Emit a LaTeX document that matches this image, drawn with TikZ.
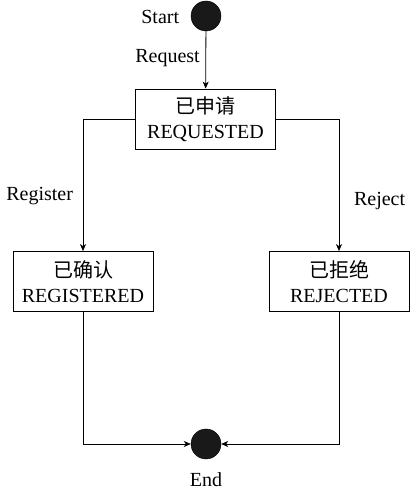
\documentclass[tikz,border=0pt]{standalone}
\usepackage{fontspec}
\setmainfont{Liberation Serif}
\newfontfamily\cjk{Noto Sans CJK SC}
\usetikzlibrary{arrows.meta}

\tikzset{
  state/.style={draw, fill=white, line width=0.8pt, minimum width=140pt,
    minimum height=60pt, align=center, inner sep=0pt},
  dot/.style={circle, draw, fill=black!90, minimum size=30pt, inner sep=0pt},
  flow/.style={-{Stealth[length=7pt, width=6pt, inset=2pt]}, line width=0.8pt}
}

\begin{document}
\begin{tikzpicture}[x=1pt, y=1pt]

  \fontsize{20}{25}\selectfont
  \useasboundingbox (0,0) rectangle (415,495);

  \newcommand\XL{83};
  \newcommand\XM{206};
  \newcommand\XR{339};

  \node[dot] (start) at (\XM, 479) {};
  \node[anchor=east] (startlbl) at (186, 478) {Start};

  \node[state] (req) at (205.5, 376) {{\cjk 已申请}\\REQUESTED};
  \node[state] (reg) at (\XL, 213.5) {{\cjk 已确认}\\REGISTERED};
  \node[state] (rej) at (\XR, 213.5) {{\cjk 已拒绝}\\REJECTED};

  \node[dot] (end) at (\XM, 51) {};
  \node (endlbl) at (\XM, 15) {End};

  \draw[flow] (start) -- node[left, xshift=1pt, yshift=2pt]{Request} (req); %% start->req
  \draw[flow] (req.west) -| node[pos=0.79, left, xshift=-3pt]{Register} (reg); %% req->reg
  \draw[flow] (req.east) -| node[pos=0.81, right, xshift=8pt]{Reject} (rej); %% req->rej

  \draw[flow] (reg) |- (end); %% reg->end
  \draw[flow] (rej) |- (end); %% rej->end
\end{tikzpicture}
\end{document}
